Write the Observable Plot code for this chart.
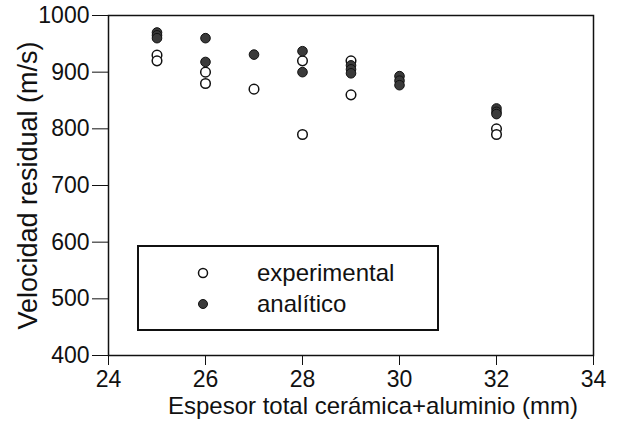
<!DOCTYPE html>
<html>
<head>
<meta charset="utf-8">
<script src="https://cdn.jsdelivr.net/npm/d3@7"></script>
<script src="https://cdn.jsdelivr.net/npm/@observablehq/plot@0.6"></script>
<style>
  html, body { margin: 0; padding: 0; background: #fff; }
  #wrap { position: relative; width: 626px; height: 438px; }
  #legend {
    position: absolute; left: 137px; top: 245px; width: 298px; height: 82px;
    border: 2px solid #111; box-sizing: content-box;
    font-family: "Liberation Sans", Arial, Helvetica, sans-serif; font-size: 24px; color: #111;
  }
  .row { position: absolute; left: 0; display: flex; align-items: center; }
  .row svg { margin-left: 58px; margin-right: 48px; }
</style>
</head>
<body>
<div id="wrap"></div>
<script>
// Data
const expThickness = [25, 25, 26, 26, 27, 28, 28, 29, 29, 32, 32];
const expVelocity  = [930, 920, 900, 880, 870, 920, 790, 920, 860, 800, 790];

const anaThickness = [25, 25, 25, 26, 26, 27, 28, 28, 29, 29, 29, 30, 30, 30, 32, 32, 32];
const anaVelocity  = [970, 965, 960, 960, 918, 931, 937, 900, 912, 905, 898, 893, 885, 877, 836, 830, 826];

const xTicks = [24, 26, 28, 30, 32, 34];
const yTicks = [400, 500, 600, 700, 800, 900, 1000];

const seriesNames = ["experimental", "analítico"];
const xLabel = "Espesor total cerámica+aluminio (mm)";
const yLabel = "Velocidad residual (m/s)";

const experimental = expThickness.map((t, i) => ({t, v: expVelocity[i]}));
const analitico = anaThickness.map((t, i) => ({t, v: anaVelocity[i]}));

const font = "'Liberation Sans', Arial, Helvetica, sans-serif";

const chart = Plot.plot({
  width: 626,
  height: 438,
  marginLeft: 108,
  marginRight: 33,
  marginTop: 15,
  marginBottom: 83,
  style: {fontFamily: font, fontSize: "23px", color: "#111", background: "#fff"},
  x: {domain: [24, 34]},
  y: {domain: [400, 1000]},
  marks: [
    Plot.frame({stroke: "#111", strokeWidth: 1.5}),
    Plot.axisX({ticks: xTicks, tickSize: 10, tickPadding: 5, label: null, stroke: "#111", fontSize: 23, tickFormat: d3.format("d")}),
    Plot.axisY({ticks: yTicks, tickSize: 16, tickPadding: 3, label: null, stroke: "#111", fontSize: 23, tickFormat: d3.format("d")}),
    Plot.text([xLabel], {frameAnchor: "bottom", dy: 58, dx: 22, fontSize: 24, fill: "#111", textAnchor: "middle"}),
    Plot.text([yLabel], {frameAnchor: "left", dx: -80, rotate: -90, fontSize: 27, fill: "#111", textAnchor: "middle"}),
    Plot.dot(experimental, {x: "t", y: "v", r: 4.8, stroke: "#111", strokeWidth: 1.5, fill: "#fff"}),
    Plot.dot(analitico, {x: "t", y: "v", r: 4.8, stroke: "#111", strokeWidth: 1, fill: "#3a3a3a"})
  ]
});

const wrap = document.getElementById("wrap");
wrap.appendChild(chart);

// Legend overlay inside the plot area
const legend = document.createElement("div");
legend.id = "legend";
const styles = [
  {fill: "#fff", stroke: "#111", sw: 1.5},
  {fill: "#3a3a3a", stroke: "#111", sw: 1}
];
seriesNames.forEach((name, i) => {
  const row = document.createElement("div");
  row.className = "row";
  row.style.top = (i === 0 ? 12 : 43) + "px";
  const s = styles[i];
  row.innerHTML = `<svg width="12" height="12"><circle cx="6" cy="6" r="4.5" fill="${s.fill}" stroke="${s.stroke}" stroke-width="${s.sw}"/></svg><span>${name}</span>`;
  legend.appendChild(row);
});
wrap.appendChild(legend);
</script>
</body>
</html>
